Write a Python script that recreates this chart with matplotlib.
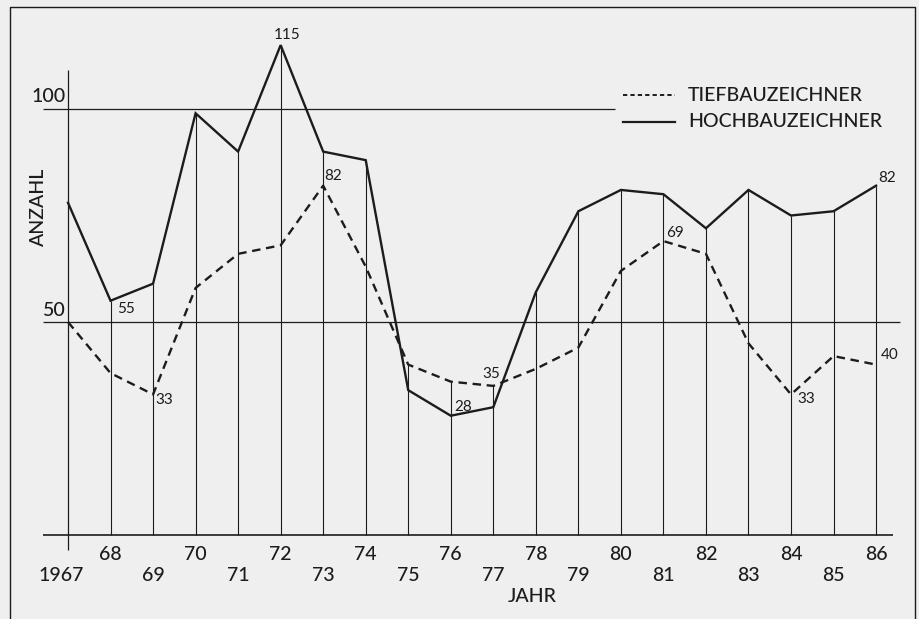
import matplotlib.pyplot as plt

# Jahre und Werte
jahre = list(range(1967, 1987))
hochbau = [78, 55, 59, 99, 90, 115, 90, 88, 34, 28, 30, 57, 76, 81, 80, 72, 81, 75, 76, 82]
tiefbau = [50, 38, 33, 58, 66, 68, 82, 63, 40, 36, 35, 39, 44, 62, 69, 66, 45, 33, 42, 40]

jahr_labels = ['1967'] + [str(j)[2:] for j in jahre[1:]]

# Wertebeschriftungen: (Jahr, Reihe, Versatz in Pixel)
beschriftungen = [
    (1972, 'hoch', (6, 10)),
    (1968, 'hoch', (15, -8)),
    (1969, 'tief', (11, -6)),
    (1973, 'tief', (10, 10)),
    (1976, 'hoch', (12, 9)),
    (1977, 'tief', (-2, 12)),
    (1981, 'tief', (12, 8)),
    (1984, 'tief', (15, -5)),
    (1986, 'hoch', (11, 8)),
    (1986, 'tief', (14, 10)),
]

plt.rcParams['font.family'] = ['Lato', 'DejaVu Sans']
ink = '#1c1c1c'
bg = '#efefef'
fs = 14

fig = plt.figure(figsize=(9.2, 6.19), dpi=100, facecolor=bg)
ax = fig.add_axes([0, 0, 1, 1])
ax.set_facecolor(bg)
ax.axis('off')
ax.set_xlim(1965.401, 1987.033)
ax.set_ylim(-19.72, 125.59)

# Rahmen
ax.plot([0.011, 0.011, 0.9946, 0.9946], [-0.1, 0.9887, 0.9887, -0.1],
        transform=ax.transAxes, color=ink, lw=1.0, clip_on=False)

# Hilfslinien
ax.hlines(100, 1966.41, 1979.86, color=ink, lw=0.9)
ax.hlines(50, 1966.41, 1986.56, color=ink, lw=0.9)
ax.hlines(0, 1966.41, 1986.40, color=ink, lw=1.2)
ax.vlines(jahre[0], -3.5, 109.2, color=ink, lw=0.9)
for j, h, t in zip(jahre[1:], hochbau[1:], tiefbau[1:]):
    ax.vlines(j, 0, max(h, t), color=ink, lw=0.8)

# Kurven
ax.plot(jahre, hochbau, color=ink, lw=1.7, solid_joinstyle='miter')
ax.plot(jahre, tiefbau, color=ink, lw=1.7, dashes=(3.6, 2.4))

# Achsenbeschriftung: gerade Jahre oben, ungerade unten
for i, (j, lab) in enumerate(zip(jahre, jahr_labels)):
    xpos = j - 0.17 if i == 0 else j
    ypos = -4.5 if i % 2 == 1 else -9.5
    ax.text(xpos, ypos, lab, ha='center', va='center', fontsize=fs,
            fontweight='medium', color=ink)

ax.text(0.579, 0.037, 'JAHR', transform=ax.transAxes, ha='center', va='center',
        fontsize=fs, fontweight='medium', color=ink)
ax.text(1966.95, 103, '100', ha='right', va='center', fontsize=fs,
        fontweight='medium', color=ink)
ax.text(1966.95, 52.8, '50', ha='right', va='center', fontsize=fs,
        fontweight='medium', color=ink)
ax.text(1966.3, 77, 'ANZAHL', rotation=90, ha='center', va='center', fontsize=fs,
        fontweight='medium', color=ink)

# Werte an den Kurven
for j, reihe, off in beschriftungen:
    i = jahre.index(j)
    wert = hochbau[i] if reihe == 'hoch' else tiefbau[i]
    ax.annotate(str(wert), (j, wert), xytext=off, textcoords='offset pixels',
                ha='center', va='center', fontsize=11, color=ink)

# Legende
ax.plot([0.677, 0.734], [0.8465, 0.8465], transform=ax.transAxes, color=ink, lw=1.4,
        dashes=(2.2, 1.6))
ax.plot([0.677, 0.734], [0.803, 0.803], transform=ax.transAxes, color=ink, lw=1.6)
ax.text(0.748, 0.8465, 'TIEFBAUZEICHNER', transform=ax.transAxes, ha='left', va='center',
        fontsize=fs, fontweight='medium', color=ink)
ax.text(0.748, 0.803, 'HOCHBAUZEICHNER', transform=ax.transAxes, ha='left', va='center',
        fontsize=fs, fontweight='medium', color=ink)

fig.savefig('out.png', dpi=100, facecolor=bg)
